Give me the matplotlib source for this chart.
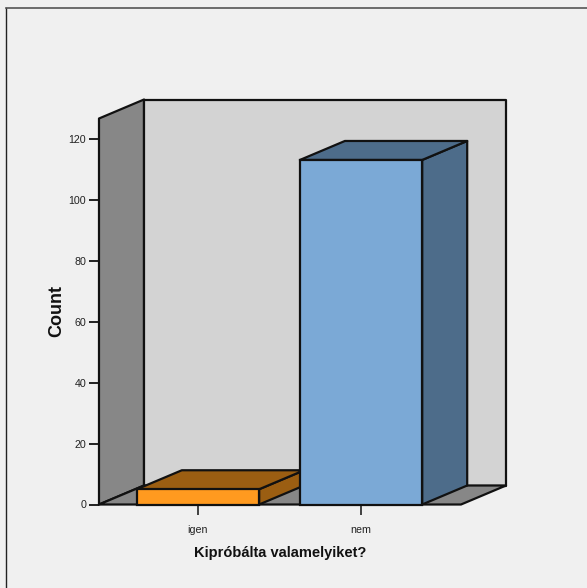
import matplotlib
matplotlib.use('Agg')
import matplotlib.pyplot as plt
from matplotlib.patches import Polygon, Rectangle

categories = ['igen', 'nem']
counts = [5, 113]
y_ticks = [0, 20, 40, 60, 80, 100, 120]
bar_colors = ['#FF9A1F', '#7BA9D6']
side_colors = ['#9B5E12', '#4D6C8A']

W, H = 587, 588
BAR_W = 0.75
DX, DY = 0.276, 6.23
XMIN, XMAX = -0.607, 1.613
YMAX = 126.6

plt.rcParams['font.family'] = ['Liberation Sans', 'DejaVu Sans']

fig = plt.figure(figsize=(W / 100, H / 100), dpi=100, facecolor='#F0F0F0')
ax = fig.add_axes([99 / W, 1 - 504.5 / H, 362 / W, 386 / H])
ax.set_xlim(XMIN, XMAX)
ax.set_ylim(0, YMAX)
ax.patch.set_visible(False)
for s in ax.spines.values():
    s.set_visible(False)


def poly(pts, fc, z=2, lw=1.6):
    ax.add_patch(Polygon(pts, closed=True, fc=fc, ec='#111111', lw=lw,
                         joinstyle='round', clip_on=False, zorder=z))


# walls and floor of the box
poly([(XMIN, 0), (XMIN + DX, DY), (XMIN + DX, YMAX + DY), (XMIN, YMAX)], '#878787', 1)
poly([(XMIN + DX, DY), (XMAX + DX, DY), (XMAX + DX, YMAX + DY), (XMIN + DX, YMAX + DY)],
     '#D3D3D3', 1)
poly([(XMIN, 0), (XMAX, 0), (XMAX + DX, DY), (XMIN + DX, DY)], '#878787', 1)

# 3d bars, left to right so the taller one overlaps
for i, (v, fc, sc) in enumerate(zip(counts, bar_colors, side_colors)):
    x0, x1 = i - BAR_W / 2, i + BAR_W / 2
    z = 3 + i
    poly([(x1, 0), (x1 + DX, DY), (x1 + DX, v + DY), (x1, v)], sc, z)
    poly([(x0, v), (x1, v), (x1 + DX, v + DY), (x0 + DX, v + DY)], sc, z)
    ax.add_patch(Rectangle((x0, 0), BAR_W, v, fc=fc, ec='#111111', lw=1.6,
                           clip_on=False, zorder=z))

ax.set_xticks(range(len(categories)), categories)
ax.set_yticks(y_ticks)
ax.tick_params(axis='x', length=7.5, width=1.1, pad=7, labelsize=7.7, color='#111111',
               labelcolor='#222222')
ax.tick_params(axis='y', length=7.5, width=1.3, pad=1.8, labelsize=7.7, color='#111111',
               labelcolor='#222222')
for t in ax.xaxis.get_major_ticks() + ax.yaxis.get_major_ticks():
    t.tick1line.set_zorder(6)

fig.text(280 / W, 1 - 553 / H, 'Kipróbálta valamelyiket?', fontsize=10.5, fontweight='bold',
         ha='center', va='center', color='#111111')
fig.text(57 / W, 1 - 311 / H, 'Count', fontsize=13, fontweight='bold', rotation=90,
         ha='center', va='center', color='#111111')

# dark edge of the chart panel, top and left only
fig.add_artist(plt.Line2D([5.5 / W, 5.5 / W], [0, 1 - 7.5 / H], color='#222222', lw=1))
fig.add_artist(plt.Line2D([5.5 / W, 1], [1 - 7.5 / H, 1 - 7.5 / H], color='#555555', lw=1.2))

fig.savefig('out.png', dpi=100, facecolor=fig.get_facecolor())
